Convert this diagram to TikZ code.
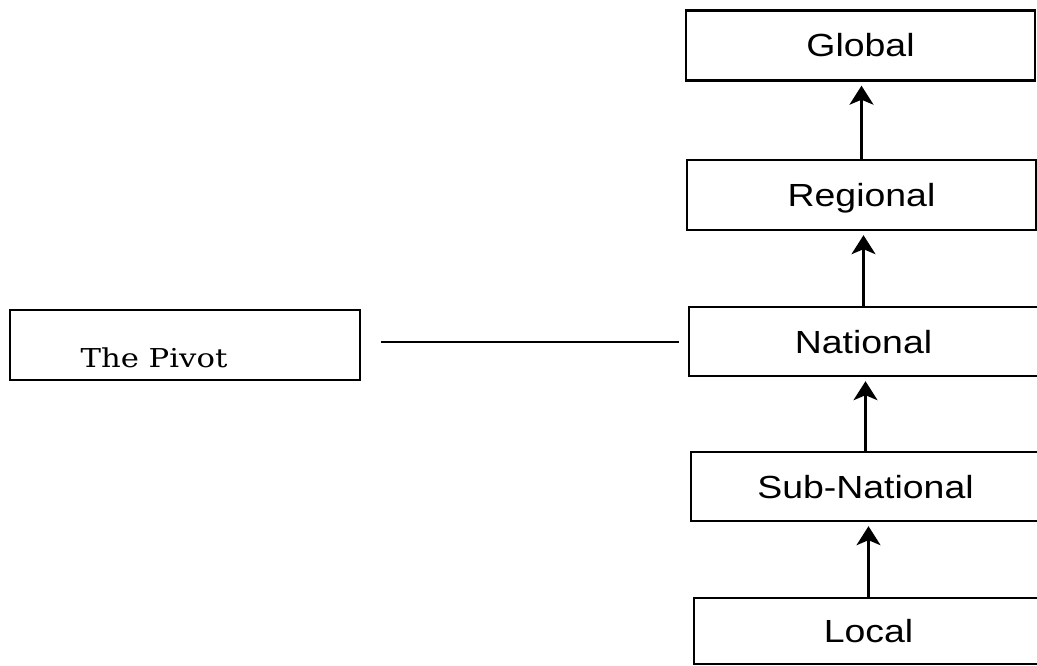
\documentclass[tikz,border=0pt]{standalone}
\usepackage{fontspec}
\usetikzlibrary{arrows.meta}
\newfontfamily\levelfont[FakeStretch=1.17]{Liberation Sans}
\newfontfamily\pivotfont[FakeStretch=1.18]{DejaVu Serif}
\begin{document}
\begin{tikzpicture}[x=1pt,y=-1pt,
  level/.style={draw,line width=2.4pt,inner sep=0pt,minimum width=349pt,
    minimum height=70pt,text height=23pt,text depth=0pt,
    font=\levelfont\fontsize{32}{32}\selectfont},
  pivotbox/.style={draw,line width=2pt,inner sep=0pt,minimum width=350pt,
    minimum height=70pt},
  up/.style={line width=2.3pt,shorten >=4pt,
    -{Stealth[length=19pt,width=24pt,inset=5pt]}},
  link/.style={line width=2pt}]
  \useasboundingbox (0,0) rectangle (1037,666);
  \clip (0,0) rectangle (1037,666);

  % hierarchy of levels
  \node[level] (global)   at (860.5,45.5) {Global};
  \node[level] (regional) at (861.5,195)  {Regional};
  \node[level,minimum height=69pt] (national) at (863.5,341.5) {National};
  \node[level,minimum height=69pt] (subnat)   at (865.5,486.5) {Sub-National};
  \node[level,minimum height=66pt] (local)    at (868.5,631)   {Local};

  % the pivot box with its label
  \node[pivotbox] (pivot) at (185,345) {};
  \node[anchor=base,inner sep=0pt,font=\pivotfont\fontsize{26}{26}\selectfont]
    (pivotlabel) at (154,367) {The Pivot};

  % upward arrows
  \draw[up] (regional.north) -- (regional.north |- global.south);
  \draw[up] (national.north) -- (national.north |- regional.south);
  \draw[up] (subnat.north)   -- (subnat.north |- national.south);
  \draw[up] (local.north)    -- (local.north |- subnat.south);

  % link from the pivot to the national level
  \draw[link,shorten <=20pt,shorten >=9pt] (pivot.east |- national.west) -- (national.west);
\end{tikzpicture}
\end{document}
